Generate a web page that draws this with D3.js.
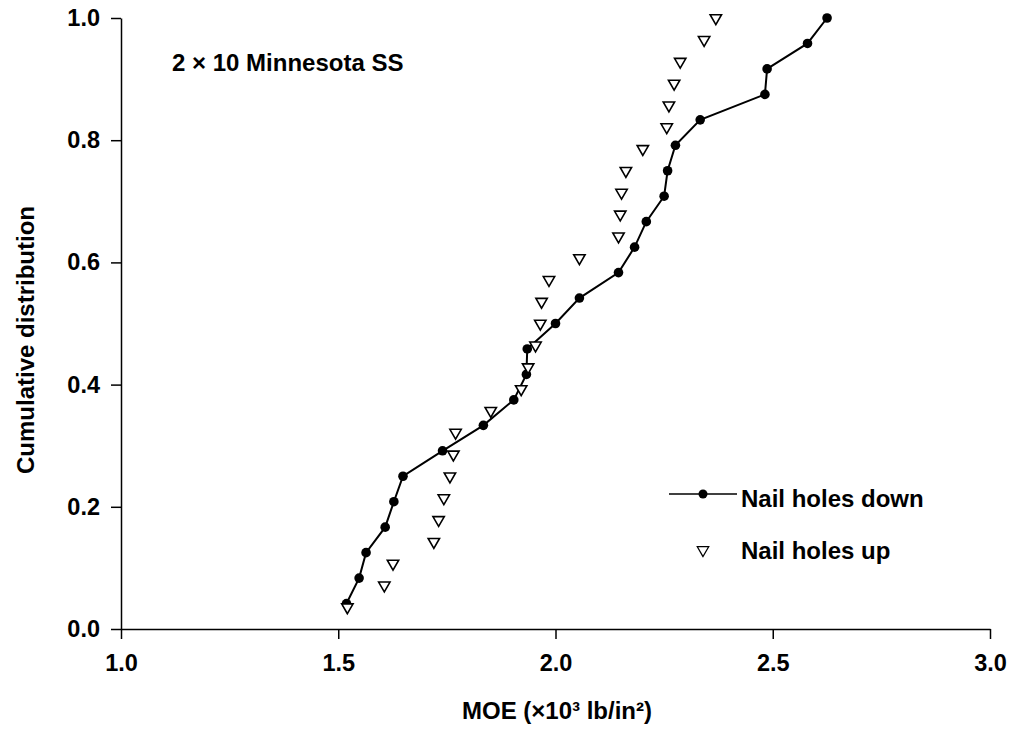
<!DOCTYPE html>
<html>
<head>
<meta charset="utf-8">
<script src="https://cdn.jsdelivr.net/npm/d3@7"></script>
<style>
  body { margin: 0; background: #fff; }
  svg text { font-family: "Liberation Sans", Arial, sans-serif; font-weight: bold; fill: #000; }
</style>
</head>
<body>
<div class="vis-holder"></div>
<script>
// MOE values (x10^3 lb/in^2), sorted; cumulative position i/n
var downMOE = [1.519, 1.548, 1.564, 1.608, 1.628, 1.649, 1.740, 1.834, 1.904, 1.933,
               1.935, 2.000, 2.055, 2.145, 2.182, 2.209, 2.250, 2.258, 2.276, 2.333,
               2.482, 2.487, 2.580, 2.625];
var upMOE = [1.521, 1.606, 1.626, 1.720, 1.731, 1.743, 1.757, 1.765, 1.770, 1.851,
             1.921, 1.937, 1.954, 1.965, 1.968, 1.985, 2.055, 2.145, 2.149, 2.152,
             2.162, 2.201, 2.256, 2.261, 2.273, 2.287, 2.342, 2.369];
var xTicks = [1.0, 1.5, 2.0, 2.5, 3.0];
var yTicks = [0.0, 0.2, 0.4, 0.6, 0.8, 1.0];
var seriesNames = ["Nail holes down", "Nail holes up"];

var downData = downMOE.map(function(v, i) { return {x: v, y: (i + 1) / downMOE.length}; });
var upData = upMOE.map(function(v, i) { return {x: v, y: (i + 1) / upMOE.length}; });

var width = 1012;
var height = 730;
var margin = {top: 18, bottom: 101, left: 121, right: 22};

var svg = d3.select('div.vis-holder')
            .append('svg')
            .attr('width', width)
            .attr('height', height)
            .style('display', 'block');

var xScale = d3.scaleLinear()
               .domain([1, 3])
               .range([margin.left, width - margin.right]);

var yScale = d3.scaleLinear()
               .domain([0, 1])
               .range([height - margin.bottom, margin.top]);

var xAxis = svg.append("g")
               .attr("transform", `translate(0, ${height - margin.bottom})`)
               .call(d3.axisBottom(xScale).tickValues(xTicks).tickFormat(d3.format(".1f"))
                     .tickSize(10).tickPadding(15).tickSizeOuter(0));

var yAxis = svg.append("g")
               .attr("transform", `translate(${margin.left}, 0)`)
               .call(d3.axisLeft(yScale).tickValues(yTicks).tickFormat(d3.format(".1f"))
                     .tickSize(10).tickPadding(11).tickSizeOuter(0));

svg.selectAll(".domain, .tick line").attr("stroke", "#000").attr("stroke-width", 1.5);
svg.selectAll(".tick text").style("font-size", "23.5px").attr("font-family", null).attr("font-size", null);

var line = d3.line()
             .x(function(d) { return xScale(d.x); })
             .y(function(d) { return yScale(d.y); });

svg.append("path")
   .datum(downData)
   .attr("d", line)
   .attr("fill", "none")
   .attr("stroke", "#000")
   .attr("stroke-width", 2);

svg.append("g")
   .selectAll("circle")
   .data(downData)
   .enter()
   .append("circle")
   .attr("cx", function(d) { return xScale(d.x); })
   .attr("cy", function(d) { return yScale(d.y); })
   .attr("r", 4.8)
   .attr("fill", "#000");

var tri = d3.symbol().type(d3.symbolTriangle).size(56);

svg.append("g")
   .selectAll("path")
   .data(upData)
   .enter()
   .append("path")
   .attr("d", tri)
   .attr("transform", function(d) { return "translate(" + xScale(d.x) + "," + yScale(d.y) + ")rotate(180)"; })
   .attr("fill", "#fff")
   .attr("stroke", "#000")
   .attr("stroke-width", 1.6);

// legend
var legend = svg.append("g");
legend.append("line")
      .attr("x1", 669).attr("x2", 737).attr("y1", 494).attr("y2", 494)
      .attr("stroke", "#000").attr("stroke-width", 1.3);
legend.append("circle")
      .attr("cx", 703).attr("cy", 494).attr("r", 4.5).attr("fill", "#000");
legend.append("path")
      .attr("d", tri)
      .attr("transform", "translate(703,550)rotate(180)")
      .attr("fill", "#fff").attr("stroke", "#000").attr("stroke-width", 1.3);
legend.append("text")
      .attr("x", 741).attr("y", 507)
      .style("font-size", "24px")
      .text(seriesNames[0]);
legend.append("text")
      .attr("x", 741).attr("y", 559)
      .style("font-size", "24px")
      .text(seriesNames[1]);

var chartTitle = svg.append("text")
                    .attr("x", 172).attr("y", 71)
                    .style("font-size", "24px")
                    .text("2 × 10 Minnesota SS");

var xLabel = svg.append("text")
                .attr("text-anchor", "middle")
                .attr("x", 557).attr("y", 719)
                .style("font-size", "24px")
                .text("MOE (×10³ lb/in²)");

var yLabel = svg.append("text")
                .attr("text-anchor", "middle")
                .attr("transform", "translate(34,340)rotate(-90)")
                .style("font-size", "24px")
                .text("Cumulative distribution");
</script>
</body>
</html>
